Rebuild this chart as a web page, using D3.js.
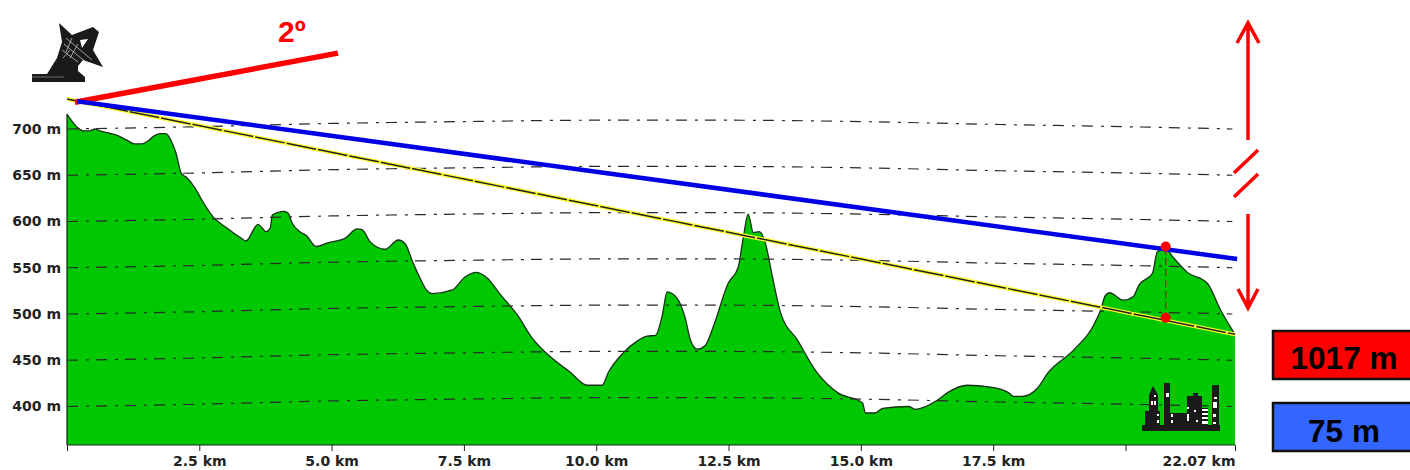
<!DOCTYPE html>
<html>
<head>
<meta charset="utf-8">
<script src="https://cdnjs.cloudflare.com/ajax/libs/d3/7.8.5/d3.min.js"></script>
<style>
  html, body { margin: 0; padding: 0; background: #fff; overflow: hidden; }
  .axis text { font-family: "DejaVu Sans", sans-serif; font-weight: bold; font-size: 14px; fill: #222; }
</style>
</head>
<body>
<div id="chart"></div>
<script>
// Terrain profile: distance (km) and elevation (m)
const profileKm = [0, .19, .30, .42, .53, .62, .76, .95, 1.13, 1.27, 1.42, 1.53, 1.63, 1.76, 1.87, 1.97, 2.06, 2.16, 2.27, 2.42,
  2.55, 2.76, 3.02, 3.29, 3.38, 3.61, 3.69, 3.76, 3.84, 3.88, 3.99, 4.10, 4.18, 4.25, 4.40, 4.52, 4.71, 4.93, 5.26, 5.48,
  5.58, 5.73, 6.01, 6.26, 6.39, 6.54, 6.67, 6.79, 6.90, 7.28, 7.52, 7.73, 7.94, 8.19, 8.51, 8.79, 9.07, 9.51, 9.83, 10.11,
  10.23, 10.51, 10.78, 10.96, 11.12, 11.25, 11.34, 11.53, 11.68, 11.78, 11.91, 12.06, 12.21, 12.50, 12.68, 12.78, 12.87, 12.97, 13.08, 13.19,
  13.33, 13.48, 13.80, 14.18, 14.56, 15.03, 15.09, 15.27, 15.41, 15.90, 16.03, 16.45, 16.64, 17.01, 17.45, 17.79, 17.88, 18.05, 18.34, 18.53,
  19.02, 19.38, 19.53, 19.62, 19.70, 19.96, 20.15, 20.25, 20.51, 20.60, 20.76, 20.89, 21.17, 21.55, 21.80, 22.07];
const profileElev = [716, 702, 698, 698, 700, 698, 696, 693, 688, 684, 684, 687, 692, 695, 695, 687, 674, 652, 647, 636,
  623, 605, 593, 582, 579, 597, 593, 589, 593, 607, 610, 611, 609, 599, 589, 585, 573, 577, 582, 592,
  591, 578, 570, 580, 576, 555, 539, 526, 522, 526, 540, 545, 539, 521, 499, 474, 457, 437, 423, 423,
  437, 458, 471, 476, 477, 499, 524, 517, 496, 472, 462, 466, 486, 534, 550, 583, 608, 588, 589, 578,
  540, 502, 472, 436, 415, 404, 393, 393, 398, 400, 397, 407, 415, 423, 421, 415, 411, 411, 420, 436,
  461, 486, 504, 520, 523, 515, 519, 531, 544, 567, 571, 562, 545, 533, 504, 478];

// Sea level contours bend with the earth: rise (m) of a contour along the path
const contourLevels = [400, 450, 500, 550, 600, 650, 700];
const contourKm = [0, 2.5, 5, 7.5, 10, 12.5, 15, 17.5, 20, 22.02];
const contourRise = [0, 2.5, 6, 8, 9.5, 9.5, 8, 5, 2.5, 0];

const kmTicks = [0, 2.5, 5, 7.5, 10, 12.5, 15, 17.5, 20, 22.07];
const kmLabels = ["", "2.5 km", "5.0 km", "7.5 km", "10.0 km", "12.5 km", "15.0 km", "17.5 km", "", "22.07 km"];

// Sight lines as [km, m] ends
const horizonRay = [[.15, 729], [5.12, 782]];
const beamLine = [[.19, 730], [22.11, 559.5]];
const groundLine = [[0, 732.4], [22.07, 478]];
const clearance = [[20.76, 573], [20.76, 496]];

const angleLabel = "2º";
const boxLabels = ["1017 m", "75 m"];
const boxColors = ["#ff0000", "#3366ff"];

const width = 1410;
const height = 470;

const svg = d3.select("#chart").append("svg")
  .attr("width", width)
  .attr("height", height)
  .style("display", "block");

const x = d3.scaleLinear().domain([0, 22.07]).range([67, 1235]);
const y = d3.scaleLinear().domain([400, 700]).range([406.5, 129]);
const baseY = 445;

// Terrain
const terrain = d3.area()
  .x(d => x(d[0]))
  .y0(baseY)
  .y1(d => y(d[1]))
  .curve(d3.curveMonotoneX);
const ridge = d3.line().x(d => x(d[0])).y(d => y(d[1])).curve(d3.curveMonotoneX);
const straight = d3.line().x(d => x(d[0])).y(d => y(d[1]));
const profile = profileKm.map((k, i) => [k, profileElev[i]]);

svg.append("path")
  .attr("d", terrain(profile))
  .attr("fill", "#00c800");
svg.append("path")
  .attr("d", ridge(profile))
  .attr("fill", "none")
  .attr("stroke", "#183018")
  .attr("stroke-width", 1.3);

// Contours
svg.append("g")
  .selectAll("path")
  .data(contourLevels)
  .enter()
  .append("path")
  .attr("d", lvl => ridge(contourKm.map((k, i) => [k, lvl + contourRise[i]])))
  .attr("fill", "none")
  .attr("stroke", "#2a2a2a")
  .attr("stroke-width", 1.2)
  .attr("stroke-dasharray", "11 8 3 7");

// Axes
const yAxis = d3.axisLeft(y)
  .tickValues(contourLevels)
  .tickSize(0)
  .tickPadding(6)
  .tickFormat(d => d + " m");
const gy = svg.append("g").attr("class", "axis").attr("transform", "translate(67,0)").call(yAxis);
gy.select(".domain").remove();
svg.append("line")
  .attr("x1", 67).attr("x2", 67)
  .attr("y1", y(716)).attr("y2", baseY)
  .attr("stroke", "#183018").attr("stroke-width", 1.3);

const xAxis = d3.axisBottom(x)
  .tickValues(kmTicks)
  .tickSize(6)
  .tickPadding(5.5)
  .tickFormat((d, i) => kmLabels[i]);
const gx = svg.append("g").attr("class", "axis").attr("transform", `translate(0,${baseY})`).call(xAxis);
gx.select(".domain").attr("stroke", "#222").attr("d", `M67,0H1235`);
gx.selectAll(".tick line").attr("stroke", "#222");
gx.selectAll(".tick text").filter(d => d === 22.07).attr("text-anchor", "end");

// Sight lines
svg.append("path").attr("d", straight(groundLine)).attr("stroke", "#ffff33").attr("stroke-width", 4).attr("fill", "none");
svg.append("path").attr("d", straight(groundLine)).attr("stroke", "#222").attr("stroke-width", 1.5).attr("stroke-dasharray", "30 2").attr("fill", "none");
svg.append("path").attr("d", straight(horizonRay)).attr("stroke", "#ff0000").attr("stroke-width", 5.5).attr("fill", "none");
svg.append("path").attr("d", straight(beamLine)).attr("stroke", "#0000e6").attr("stroke-width", 4.5).attr("fill", "none");

// Clearance marker
svg.append("path").attr("d", straight(clearance))
  .attr("stroke", "#c01818").attr("stroke-width", 1.3).attr("stroke-dasharray", "8 3").attr("fill", "none");
svg.append("g").selectAll("circle").data(clearance).enter().append("circle")
  .attr("cx", d => x(d[0])).attr("cy", d => y(d[1])).attr("r", 5).attr("fill", "#ff0000");

svg.append("text")
  .attr("x", 278).attr("y", 42)
  .attr("font-family", "Liberation Sans, Arial, sans-serif")
  .attr("font-weight", "bold").attr("font-size", 30)
  .attr("fill", "#ff0000")
  .text(angleLabel);

// Broken range arrow
const arrows = [
  "M1248,140V23M1237,43L1248,23L1259,43",
  "M1234,173L1258,150M1234,197L1258,174",
  "M1248,214V308M1238,289L1248,308L1258,289"
];
svg.append("g").selectAll("path").data(arrows).enter().append("path")
  .attr("d", d => d)
  .attr("fill", "none")
  .attr("stroke", "#ff0000")
  .attr("stroke-width", 3.5);

// Result boxes
const boxes = svg.append("g").selectAll("g").data(boxLabels).enter().append("g");
boxes.append("rect")
  .attr("x", 1273)
  .attr("y", (d, i) => i === 0 ? 331 : 403)
  .attr("width", 150)
  .attr("height", 48)
  .attr("fill", (d, i) => boxColors[i])
  .attr("stroke", "#111")
  .attr("stroke-width", 2.5);
boxes.append("text")
  .attr("x", 1344)
  .attr("y", (d, i) => i === 0 ? 369 : 442)
  .attr("text-anchor", "middle")
  .attr("font-family", "Liberation Sans, Arial, sans-serif")
  .attr("font-weight", "bold")
  .attr("font-size", 31.5)
  .attr("fill", "#000")
  .text(d => d);

// Radio dish icon
const dish = svg.append("g");
dish.append("path")
  .attr("fill", "#1a1a1a")
  .attr("fill-rule", "evenodd")
  .attr("d", "M32,74H47L57,58L62,42L59,23L72,35L93,27L99,32L93,50L103,67L83,60L78,66L78,71L85,77V82H32Z"
    + "M80,40L88,39L82,48Z");
dish.append("path")
  .attr("fill", "none").attr("stroke", "#ddd").attr("stroke-width", .7)
  .attr("d", "M64,44L88,64M62,50L78,62M66,38L92,60M72,38L66,52M78,44L70,58M63,58L70,50");
dish.append("rect").attr("x", 32).attr("y", 76).attr("width", 32).attr("height", 2).attr("fill", "#444");

// City icon
const city = svg.append("g");
city.append("path")
  .attr("fill", "#1a1a1a")
  .attr("d", "M1142,425H1145V411H1149V395L1153,386L1158,395V411H1160V425H1164V383H1170V413H1187V396H1193V393H1198V396H1202V408H1208V425H1212V385H1219V425H1220V431H1142Z");
const cityWindows = [[1151, 401, 2, 4], [1154, 401, 2, 4], [1154, 395, 2, 2], [1166, 393, 3, 4], [1157, 414, 2, 2], [1157, 420, 2, 3],
  [1171, 414, 2, 3], [1171, 420, 2, 3], [1187, 414, 2, 7], [1187, 407, 2, 2], [1202, 409, 6, 2], [1202, 413, 6, 2], [1202, 417, 6, 2], [1202, 421, 6, 3],
  [1213, 402, 4, 6], [1214, 397, 3, 2], [1213, 414, 3, 3], [1213, 422, 3, 2], [1194, 410, 2, 2], [1196, 420, 2, 2]];
city.selectAll("rect").data(cityWindows).enter().append("rect")
  .attr("x", d => d[0]).attr("y", d => d[1]).attr("width", d => d[2]).attr("height", d => d[3])
  .attr("fill", "#fff");
city.append("rect").attr("x", 1208).attr("y", 412).attr("width", 4).attr("height", 13).attr("fill", "#00c800");
</script>
</body>
</html>
